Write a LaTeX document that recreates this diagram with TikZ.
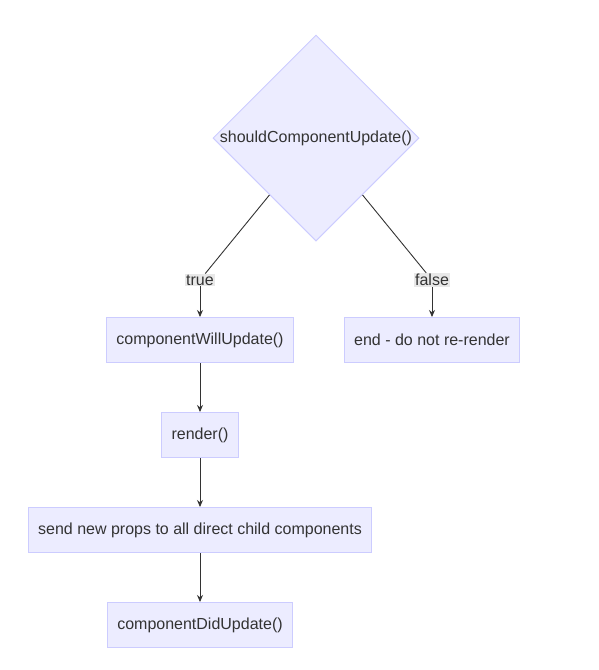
\documentclass[tikz,border=0pt]{standalone}
\usepackage{fontspec}
\setmainfont{Liberation Sans}
\usetikzlibrary{shapes.geometric, arrows.meta}
\definecolor{boxfill}{HTML}{ECECFF}
\definecolor{boxline}{HTML}{CCCCFF}
\definecolor{labelbg}{HTML}{E8E8E8}
\definecolor{ink}{HTML}{333333}
\tikzstyle{decision} = [
    diamond,
    aspect=1,
    minimum width=206pt,
    minimum height=206pt,
    inner sep=0pt,
    fill=boxfill,
    draw=boxline,
    line width=1pt
]
\tikzstyle{process} = [
    rectangle,
    inner xsep=10pt,
    minimum height=45pt,
    fill=boxfill,
    draw=boxline,
    line width=1pt
]
\tikzstyle{edgelabel} = [
    fill=labelbg,
    inner sep=1pt
]
\tikzstyle{line} = [draw=ink, line width=0.9pt]
\tikzstyle{arrow} = [line, -{Stealth[length=7pt, width=6pt]}]

\begin{document}
\begin{tikzpicture}[x=1pt, y=1pt, node distance=95pt, font=\fontsize{16}{19}\selectfont, text=ink]

\useasboundingbox (0,0) rectangle (599,-670);

\node (check) [decision] at (316,-138) {\makebox[0pt]{shouldComponentUpdate()}};

\node (yes) [edgelabel] at (200,-280) {true};
\node (no) [edgelabel] at (432,-280) {false};

\node (willupdate) [process] at (200,-340) {componentWillUpdate()};

\node (render) [process, below of=willupdate] {render()};

\node (sendprops) [process, below of=render]
{send new props to all direct child components};

\node (didupdate) [process, below of=sendprops] {componentDidUpdate()};

\node (skip) [process] at (432,-340) {end - do not re-render};

\draw [line] (check) -- (yes);
\draw [line] (check) -- (no);
\draw [arrow] (yes) -- (willupdate);
\draw [arrow] (no) -- (skip);
\draw [arrow] (willupdate) -- (render);
\draw [arrow] (render) -- (sendprops);
\draw [arrow] (sendprops) -- (didupdate);

\end{tikzpicture}
\end{document}
